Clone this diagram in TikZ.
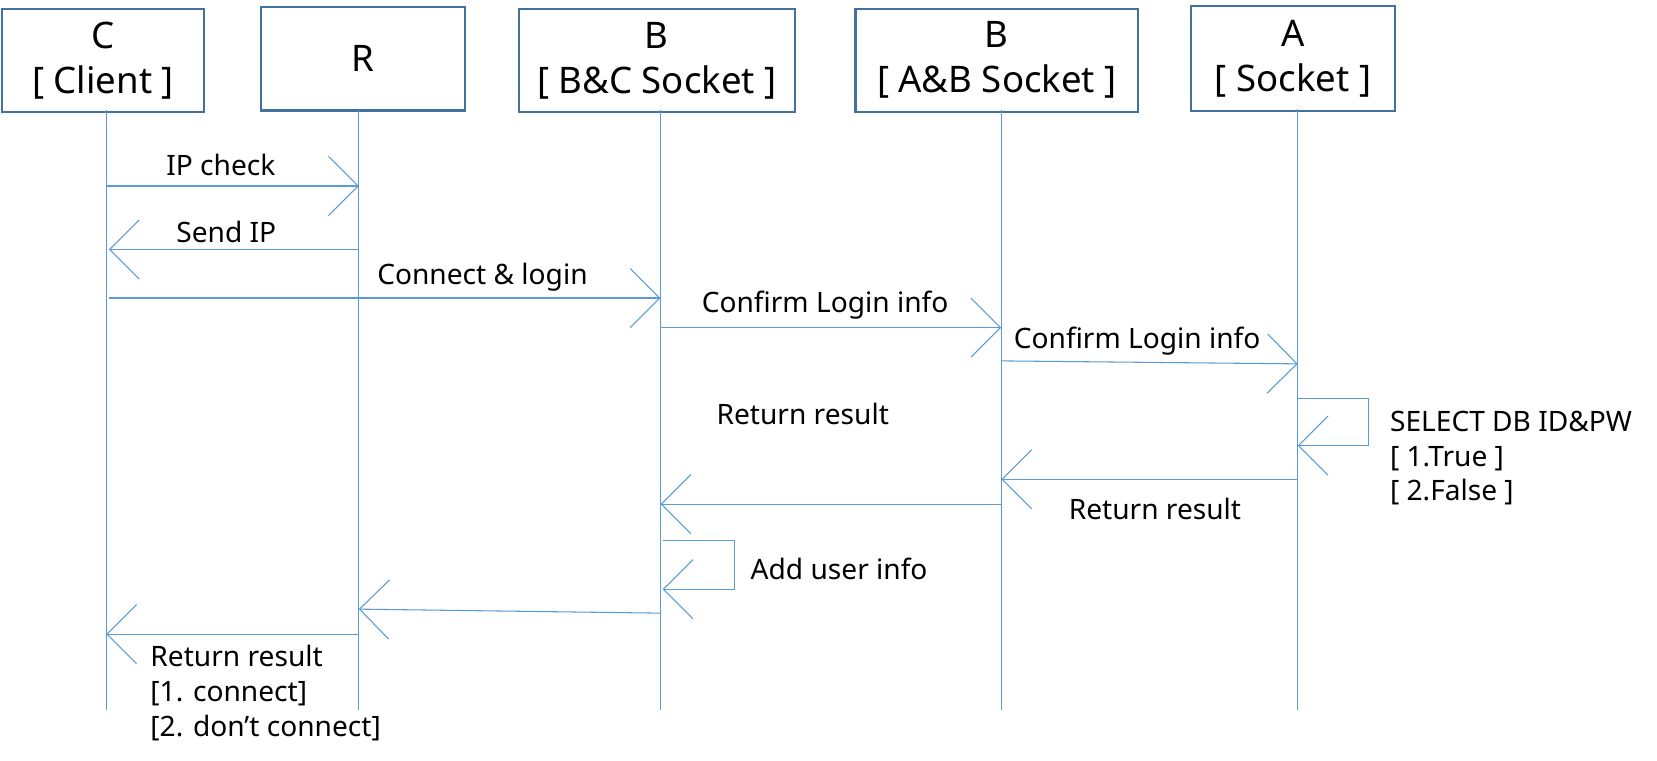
\documentclass[tikz,border=0pt]{standalone}
\usepackage{fontspec}
\setmainfont{Noto Sans}
\usetikzlibrary{arrows.meta}
\definecolor{lineblue}{RGB}{91,155,213}
\definecolor{boxblue}{RGB}{65,113,156}
\newcommand\boxfnt{\fontsize{17.3}{21.3}\selectfont}
\newcommand\lblfnt{\fontsize{13.3}{16.5}\selectfont}
\begin{document}
\begin{tikzpicture}[x=0.5pt,y=-0.5pt,
  box/.style={draw=boxblue, line width=1pt, align=center, font=\boxfnt, inner sep=0pt},
  life/.style={draw=lineblue, line width=0.5pt},
  msg/.style={draw=lineblue, line width=0.5pt, -{Straight Barb[length=14pt,width=28pt]}},
  lbl/.style={font=\lblfnt, inner sep=0pt, anchor=base west, align=left}]
\useasboundingbox (0,0) rectangle (1568,720);
\fill[white] (0,0) rectangle (1568,720);
% participant boxes
\node[box, minimum width=95.5pt, minimum height=48.75pt] (C)  at (97.5,57.5)  {C\\{[} Client ]};
\node[box, minimum width=96.5pt, minimum height=48.75pt] (R)  at (343.5,55.75) {R};
\node[box, minimum width=130.5pt, minimum height=48.75pt] (BC) at (621.5,57.5) {B\\{[} B\&C Socket ]};
\node[box, minimum width=133.75pt, minimum height=48.85pt] (AB) at (943.25,57) {B\\{[} A\&B Socket ]};
\node[box, minimum width=96.5pt, minimum height=49.45pt] (A)  at (1223.5,55.5) {A\\{[} Socket ]};
% lifeline ends
\coordinate (Ct) at (100.5,104.5); \coordinate (Cb) at (100.5,671.6);
\coordinate (Rt) at (339.5,104.5); \coordinate (Rb) at (339.5,671.6);
\coordinate (BCt) at (625,104.5); \coordinate (BCb) at (625,671.6);
\coordinate (ABt) at (947.5,104); \coordinate (ABb) at (947.5,671.6);
\coordinate (At) at (1228,103); \coordinate (Ab) at (1228,671.6);
\draw[life] (Ct) -- (Cb);
\draw[life] (Rt) -- (Rb);
\draw[life] (BCt) -- (BCb);
\draw[life] (ABt) -- (ABb);
\draw[life] (At) -- (Ab);
% message points
\coordinate (m1a) at (100,176);   \coordinate (m1b) at (339.5,176);
\coordinate (m2a) at (339.5,236); \coordinate (m2b) at (103,236);
\coordinate (m3a) at (103,282);   \coordinate (m3b) at (625,282);
\coordinate (m4a) at (625,310);   \coordinate (m4b) at (947.5,310);
\coordinate (m5a) at (947.5,341.5); \coordinate (m5b) at (1228,344.3);
\coordinate (l1a) at (1228,376.8); \coordinate (l1b) at (1295.4,376.8);
\coordinate (l1c) at (1295.4,421.6); \coordinate (l1d) at (1228,421.6);
\coordinate (m6a) at (1228,453.5); \coordinate (m6b) at (947.5,453.5);
\coordinate (m7a) at (947.5,477); \coordinate (m7b) at (625,477);
\coordinate (l2a) at (627,511.4); \coordinate (l2b) at (695,511.4);
\coordinate (l2c) at (695,557.5); \coordinate (l2d) at (627,557.5);
\coordinate (m8a) at (625,580.2); \coordinate (m8b) at (339.5,576.4);
\coordinate (m9a) at (339.5,600); \coordinate (m9b) at (100.5,600);
% messages
\draw[msg] (m1a) -- (m1b);
\draw[msg] (m2a) -- (m2b);
\draw[msg] (m3a) -- (m3b);
\draw[msg] (m4a) -- (m4b);
\draw[msg] (m5a) -- (m5b);
\draw[msg] (l1a) -- (l1b) -- (l1c) -- (l1d);
\draw[msg] (m6a) -- (m6b);
\draw[msg] (m7a) -- (m7b);
\draw[msg] (l2a) -- (l2b) -- (l2c) -- (l2d);
\draw[msg] (m8a) -- (m8b);
\draw[msg] (m9a) -- (m9b);
% labels (multi-line nodes: base = last line)
\node[lbl] (t1) at (157,165.6) {IP check};
\node[lbl] (t2) at (166.5,229) {Send IP};
\node[lbl] (t3) at (356.6,269.6) {Connect \& login};
\node[lbl] (t4) at (663.7,296) {Confirm Login info};
\node[lbl] (t5) at (959,329.5) {Confirm Login info};
\node[lbl] (t6) at (1315,474) {SELECT DB ID\&PW\\{[} 1.True ]\\{[} 2.False ]};
\node[lbl] (t7) at (677.7,402) {Return result};
\node[lbl] (t8) at (1011,491.9) {Return result};
\node[lbl] (t9) at (710,548.6) {Add user info};
\node[lbl] (t10) at (142,697) {Return result\\{[}1. connect]\\{[}2. don’t connect]};
\end{tikzpicture}
\end{document}
